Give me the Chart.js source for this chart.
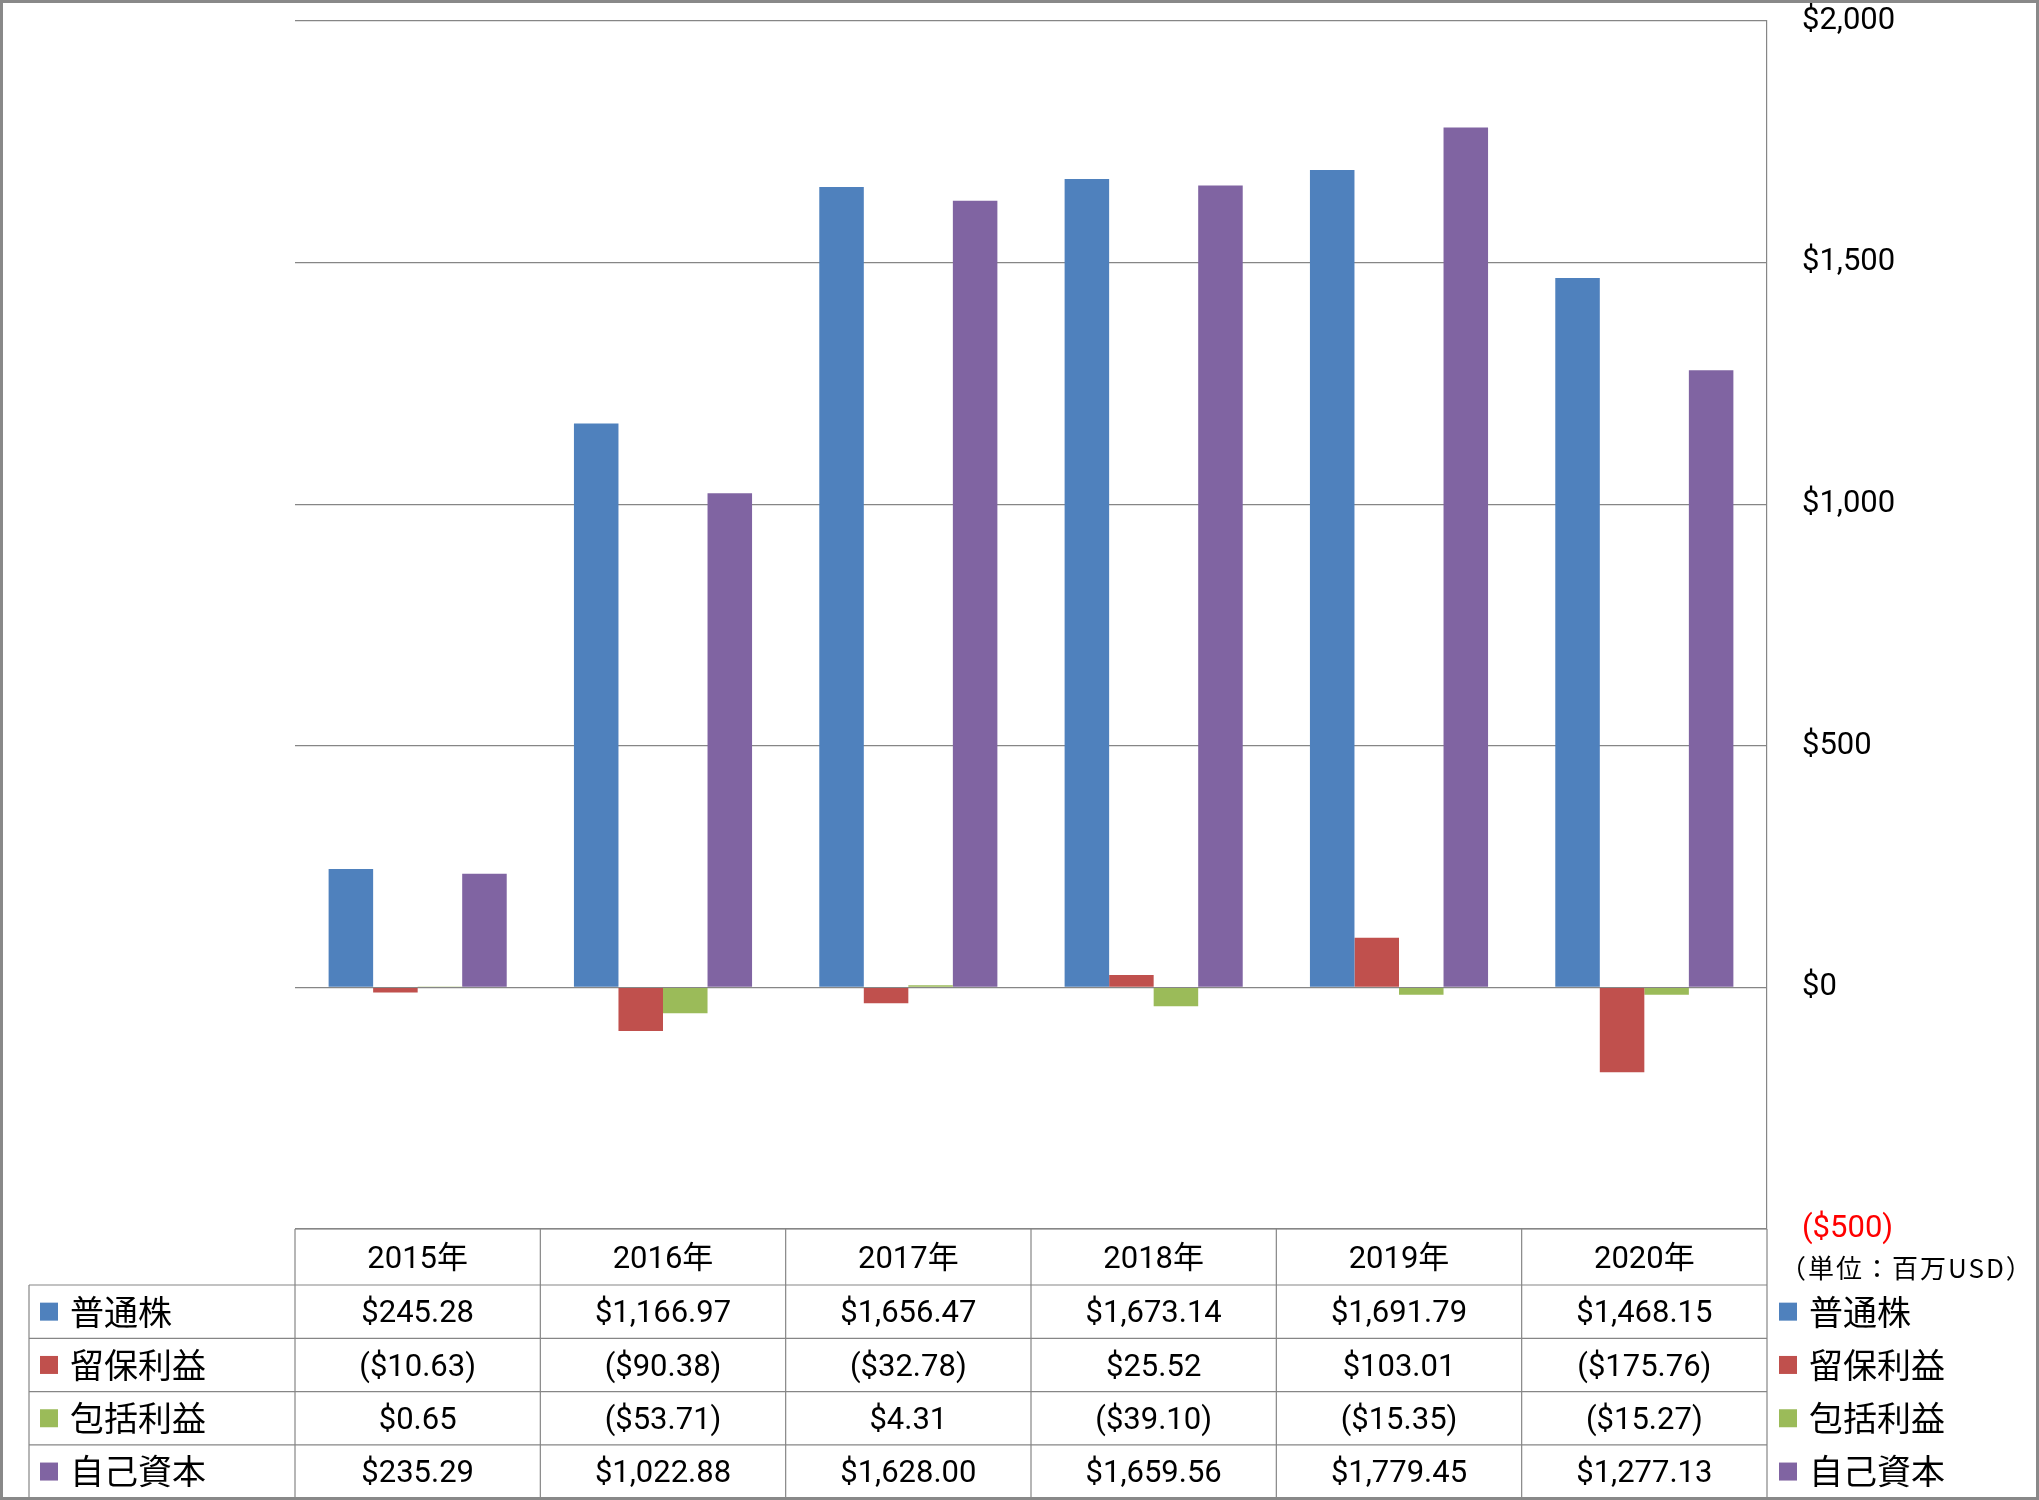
<!DOCTYPE html>
<html>
<head>
<meta charset="utf-8">
<script src="https://cdn.jsdelivr.net/npm/chart.js@4/dist/chart.umd.min.js"></script>
<style>
    body { margin: 0; background: #ffffff; }
    canvas { display: block; }
</style>
</head>
<body>
<canvas id="myChart" width="2039" height="1500"></canvas>
<script>
//Chart data (million USD)
const years = ['2015年', '2016年', '2017年', '2018年', '2019年', '2020年'];
const commonStock = [245.28, 1166.97, 1656.47, 1673.14, 1691.79, 1468.15];
const retainedEarnings = [-10.63, -90.38, -32.78, 25.52, 103.01, -175.76];
const comprehensiveIncome = [0.65, -53.71, 4.31, -39.10, -15.35, -15.27];
const equity = [235.29, 1022.88, 1628.00, 1659.56, 1779.45, 1277.13];

const seriesNames = ['普通株', '留保利益', '包括利益', '自己資本'];
const seriesColors = ['#4F81BD', '#C0504D', '#9BBB59', '#8064A2'];
const unitLabel = '（単位：百万USD）';

const yMin = -500;
const yMax = 2000;
const yStep = 500;

const lineColor = '#868686';
const numFont = '31px Roboto, "Noto Sans CJK JP", sans-serif';
const cjkFont = '34px "Noto Sans CJK JP", sans-serif';

//Money formatting like the Excel sheet: $1,234.56 or ($12.34)
function money(value, digits)
{
    let text = '$' + Math.abs(value).toLocaleString('en-US', {
        minimumFractionDigits: digits,
        maximumFractionDigits: digits
    });
    if(value < 0)
    {
        text = '(' + text + ')';
    }
    return text;
}

//Draws the data table under the plot, the right side legend and the outer frame
const tablePlugin = {
    id: 'dataTable',
    afterDraw(chart) {
        const ctx = chart.ctx;
        const area = chart.chartArea;
        const xScale = chart.scales.x;
        const colWidth = (area.right - area.left) / years.length;

        const headTop = area.bottom;
        const headBottom = headTop + 56;
        const rowHeight = 53.3;
        const tableBottom = headBottom + rowHeight * seriesNames.length;
        const labelLeft = 29;

        ctx.save();
        ctx.strokeStyle = lineColor;
        ctx.lineWidth = 1.2;

        //horizontal lines
        ctx.beginPath();
        ctx.moveTo(area.left, headTop);
        ctx.lineTo(area.right, headTop);
        for(let r = 0; r <= seriesNames.length; r++)
        {
            const y = headBottom + r * rowHeight;
            ctx.moveTo(labelLeft, y);
            ctx.lineTo(area.right, y);
        }

        //vertical lines
        ctx.moveTo(labelLeft, headBottom);
        ctx.lineTo(labelLeft, tableBottom);
        for(let c = 0; c <= years.length; c++)
        {
            const x = area.left + c * colWidth;
            ctx.moveTo(x, headTop);
            ctx.lineTo(x, tableBottom);
        }
        ctx.stroke();

        //header
        ctx.fillStyle = '#000000';
        ctx.textAlign = 'center';
        ctx.textBaseline = 'middle';
        ctx.font = numFont;
        years.forEach((year, i) => {
            ctx.fillText(year, xScale.getPixelForValue(i), (headTop + headBottom) / 2 + 3);
        });

        //rows
        chart.data.datasets.forEach((ds, r) => {
            const yMid = headBottom + r * rowHeight + rowHeight / 2;

            ctx.fillStyle = ds.backgroundColor;
            ctx.fillRect(40, yMid - 9, 18, 18);

            ctx.fillStyle = '#000000';
            ctx.textAlign = 'left';
            ctx.font = cjkFont;
            ctx.fillText(ds.label, 70, yMid);

            ctx.textAlign = 'center';
            ctx.font = numFont;
            ds.data.forEach((v, i) => {
                ctx.fillText(money(v, 2), xScale.getPixelForValue(i), yMid + 3);
            });

            //right side legend
            ctx.fillStyle = ds.backgroundColor;
            ctx.fillRect(1779, yMid - 9, 18, 18);
            ctx.fillStyle = '#000000';
            ctx.textAlign = 'left';
            ctx.font = cjkFont;
            ctx.fillText(ds.label, 1809, yMid);
        });

        //unit text
        ctx.font = '26px "Noto Sans CJK JP", sans-serif';
        ctx.letterSpacing = '2px';
        ctx.textAlign = 'left';
        ctx.fillText(unitLabel, 1780, 1268);
        ctx.letterSpacing = '0px';

        //outer frame
        ctx.lineWidth = 3;
        ctx.strokeStyle = '#898989';
        ctx.strokeRect(1.5, 1.5, chart.width - 3, chart.height - 3);
        ctx.restore();
    }
};

const ctx = document.getElementById('myChart').getContext('2d');

const datasetsData = [commonStock, retainedEarnings, comprehensiveIncome, equity];

const myChart = new Chart(ctx, {
    type: 'bar',
    data: {
        labels: years,
        datasets: datasetsData.map((values, i) => ({
            label: seriesNames[i],
            data: values,
            backgroundColor: seriesColors[i],
            borderWidth: 0,
            barPercentage: 1,
            categoryPercentage: 0.726
        }))
    },
    options: {
        responsive: false,
        animation: false,
        layout: {
            padding: { left: 295, top: 21, bottom: 271, right: 0 }
        },
        plugins: {
            legend: { display: false },
            tooltip: { enabled: false }
        },
        scales: {
            x: {
                display: false
            },
            y: {
                position: 'right',
                min: yMin,
                max: yMax,
                afterFit(scale) {
                    //fixed axis width and no extra room for the top label
                    scale.width = 272;
                    scale.paddingTop = 0;
                    scale.paddingBottom = 0;
                },
                ticks: {
                    stepSize: yStep,
                    padding: 35,
                    font: { family: 'Roboto', size: 31 },
                    color: (c) => c.tick.value < 0 ? '#FF0000' : '#000000',
                    callback: (value) => money(value, 0)
                },
                grid: {
                    color: lineColor,
                    lineWidth: 1.2,
                    drawTicks: false
                },
                border: {
                    display: true,
                    color: lineColor,
                    width: 1.2
                }
            }
        }
    },
    plugins: [tablePlugin]
});
</script>
</body>
</html>
